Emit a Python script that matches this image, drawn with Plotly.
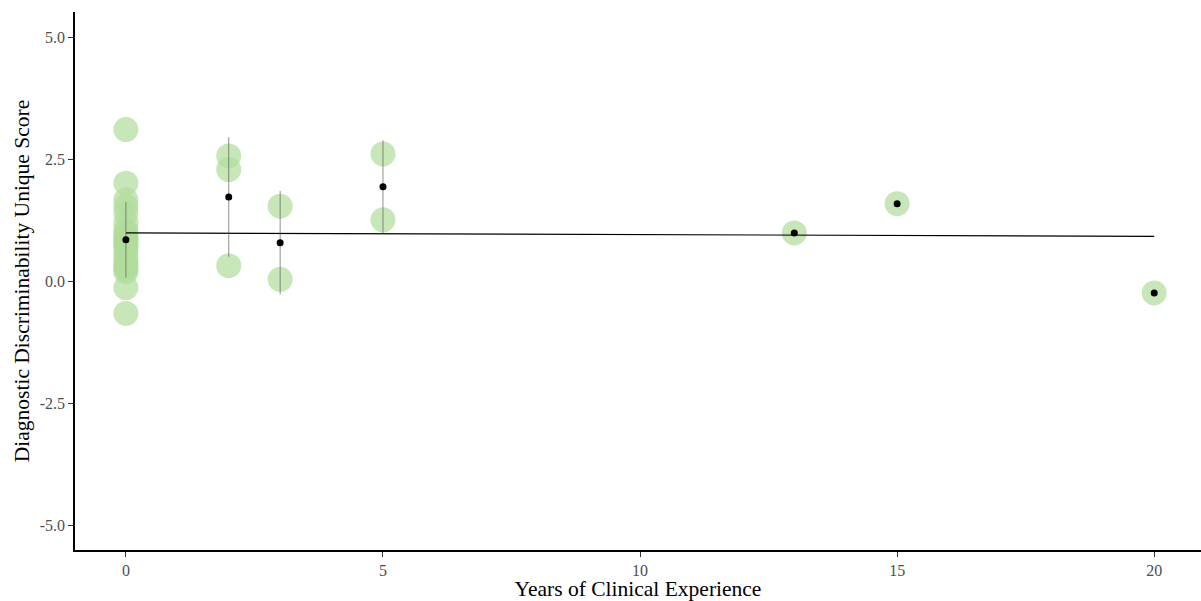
import numpy as np
import plotly.graph_objects as go

# Raw observations (years of experience, score)
years = [0]*23 + [2, 2, 2] + [3, 3] + [5, 5] + [13, 15, 20]
scores = [3.12, 2.02, 1.68, 1.55, 1.40, 1.20, 1.05, 0.90, 0.75, 0.60, 0.50,
          0.40, 0.30, 0.20, 0.25, 0.35, -0.12, -0.65, 0.80, 0.85, 0.90, 0.70, 1.00,
          2.58, 2.30, 0.33,
          1.55, 0.05,
          2.62, 1.27,
          1.00, 1.60, -0.23]

x_ticks = [0, 5, 10, 15, 20]
y_ticks = [-5.0, -2.5, 0.0, 2.5, 5.0]
y_tick_labels = ["-5.0", "-2.5", "0.0", "2.5", "5.0"]

xa = np.array(years, dtype=float)
ya = np.array(scores, dtype=float)
groups = sorted(set(years))
g_mean = [ya[xa == g].mean() for g in groups]
g_sd = [ya[xa == g].std(ddof=1) if (xa == g).sum() > 1 else 0.0 for g in groups]

slope, intercept = np.polyfit(xa, ya, 1)
line_x = [min(years), max(years)]
line_y = [intercept + slope * v for v in line_x]

font_family = "Liberation Serif, Times New Roman, serif"

fig = go.Figure()
fig.add_trace(go.Scatter(
    x=years, y=scores, mode="markers",
    marker=dict(size=25, color="rgba(176,221,155,0.7)", line=dict(width=0)),
    hoverinfo="skip", showlegend=False))
fig.add_trace(go.Scatter(
    x=line_x, y=line_y, mode="lines",
    line=dict(color="black", width=1.2), showlegend=False))
# error bars (mean ± SD)
ex, ey = [], []
for g, m, s in zip(groups, g_mean, g_sd):
    if s > 0:
        ex += [g, g, None]
        ey += [m - s, m + s, None]
fig.add_trace(go.Scatter(
    x=ex, y=ey, mode="lines",
    line=dict(color="rgba(80,80,80,0.8)", width=0.8), showlegend=False))
fig.add_trace(go.Scatter(
    x=groups, y=g_mean, mode="markers",
    marker=dict(size=7, color="black"), showlegend=False))

fig.update_layout(
    width=1201, height=601,
    margin=dict(l=75, r=0, t=12, b=51),
    paper_bgcolor="white", plot_bgcolor="white",
    font=dict(family=font_family, color="black"),
    showlegend=False,
)
fig.update_xaxes(
    range=[-0.99, 20.91], tickvals=x_ticks, ticktext=[str(v) for v in x_ticks],
    showgrid=False, zeroline=False, showline=True, linecolor="black", linewidth=1.5,
    ticks="outside", ticklen=5, tickcolor="#333333", tickwidth=1, automargin=False,
    tickfont=dict(family=font_family, size=16, color="#4d4d4d"),
    title=dict(text="Years of Clinical Experience", standoff=4,
               font=dict(family=font_family, size=21.5, color="black")),
)
fig.update_yaxes(
    range=[-5.5, 5.53], tickvals=y_ticks, ticktext=y_tick_labels,
    showgrid=False, zeroline=False, showline=True, linecolor="black", linewidth=1.5,
    ticks="outside", ticklen=5, tickcolor="#333333", tickwidth=1, automargin=False,
    tickfont=dict(family=font_family, size=16, color="#4d4d4d"),
    title=dict(text="Diagnostic Discriminability Unique Score", standoff=4,
               font=dict(family=font_family, size=21.5, color="black")),
)

fig.write_html(
    "out.html",
    config={"displayModeBar": False},
    post_script="document.body.style.margin='0';document.body.style.overflow='hidden';",
)
